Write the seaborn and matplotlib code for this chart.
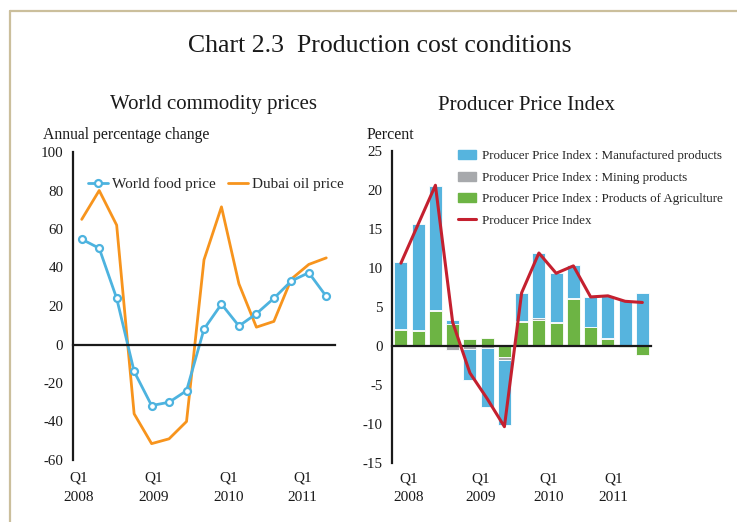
import matplotlib
matplotlib.use("Agg")
import matplotlib.pyplot as plt
import matplotlib.lines as mlines
import matplotlib.patches as mpatches
import numpy as np
import pandas as pd
import seaborn as sns

# ---------------- data ----------------
quarters = ["2008Q1", "2008Q2", "2008Q3", "2008Q4", "2009Q1", "2009Q2", "2009Q3", "2009Q4",
            "2010Q1", "2010Q2", "2010Q3", "2010Q4", "2011Q1", "2011Q2", "2011Q3"]
world_food = [54.7, 50, 24, -14, -31.7, -30, -24, 8, 21, 9.6, 16, 24, 33, 37.3, 25]
dubai_oil = [65, 80, 62, -36, -51.5, -49, -40, 44, 71.5, 31.5, 9, 12, 34, 41.6, 45]

ppi_manuf = [8.6, 13.6, 15.9, 0.5, -4.0, -7.6, -8.3, 3.6, 8.35, 6.3, 4.2, 3.85, 5.4, 5.75, 6.65]
ppi_mining = [0.1, 0.15, 0.1, -0.6, -0.47, -0.3, -0.45, 0.05, 0.25, 0.15, 0.1, 0.05, 0.1, 0.15, 0.15]
ppi_agri = [2.0, 1.85, 4.5, 2.8, 0.86, 0.95, -1.4, 3.1, 3.3, 2.85, 6.05, 2.35, 0.86, -0.2, -1.2]
ppi_total = [10.6, 15.6, 20.6, 3.0, -3.5, -6.8, -10.4, 6.8, 11.9, 9.3, 10.25, 6.26, 6.4, 5.7, 5.55]

year_labels = ["Q1\n2008", "Q1\n2009", "Q1\n2010", "Q1\n2011"]
left_yticks = [100, 80, 60, 40, 20, 0, -20, -40, -60]
right_yticks = [25, 20, 15, 10, 5, 0, -5, -10, -15]

# ---------------- style ----------------
sns.set_style("white")
plt.rcParams["font.family"] = ["Liberation Serif", "DejaVu Serif"]
plt.rcParams["axes.linewidth"] = 1.6

C_FOOD = "#4db3df"
C_OIL = "#f7941d"
C_MANUF = "#56b4de"
C_MINING = "#a7a9ac"
C_AGRI = "#6db444"
C_PPI = "#c4202f"
TXT = "#1a1a1a"

fig = plt.figure(figsize=(7.37, 5.22), dpi=100)
W, H = 737, 522

def px_axes(x0, x1, ytop, ybot):
    return fig.add_axes([x0 / W, 1 - ybot / H, (x1 - x0) / W, (ybot - ytop) / H])

# frame lines (top and left)
fig.add_artist(mlines.Line2D([9.5 / W, 1], [1 - 10.5 / H, 1 - 10.5 / H], color="#cbbf9c", lw=1.6))
fig.add_artist(mlines.Line2D([9.5 / W, 9.5 / W], [0, 1 - 10.5 / H], color="#cbbf9c", lw=1.6))

fig.text(380 / W, 1 - 46 / H, "Chart 2.3  Production cost conditions", ha="center", va="center",
         fontsize=18.5, color=TXT)
fig.text(214 / W, 1 - 105 / H, "World commodity prices", ha="center", va="center", fontsize=15, color=TXT)
fig.text(527 / W, 1 - 105 / H, "Producer Price Index", ha="center", va="center", fontsize=15, color=TXT)
fig.text(43 / W, 1 - 135 / H, "Annual percentage change", ha="left", va="center", fontsize=11.3, color=TXT)
fig.text(367 / W, 1 - 135 / H, "Percent", ha="left", va="center", fontsize=11.5, color=TXT)

x = np.arange(len(quarters))

def style_axes(ax, yticks):
    for s in ["top", "right"]:
        ax.spines[s].set_visible(False)
    ax.spines["bottom"].set_position(("data", 0))
    ax.spines["left"].set_color(TXT)
    ax.spines["bottom"].set_color(TXT)
    ax.set_xlim(-0.5, len(quarters) - 0.5)
    ax.set_xticks(np.arange(1.5, len(quarters), 2))
    ax.set_xticklabels([])
    ax.set_yticks(yticks)
    ax.set_yticklabels([str(v) for v in yticks])
    ax.tick_params(axis="y", direction="out", length=5, width=1.4, colors=TXT, labelsize=10.8, pad=2)
    ax.tick_params(axis="x", direction="out", length=5, width=1.4, colors=TXT)
    ax.set_xlabel("")
    ax.set_ylabel("")
    ax.grid(False)

# ---------------- left chart ----------------
ax1 = px_axes(73, 335, 152, 460)
df1 = pd.DataFrame({"x": x, "food": world_food, "oil": dubai_oil})
sns.lineplot(data=df1, x="x", y="oil", ax=ax1, color=C_OIL, lw=2, label="Dubai oil price", legend=False)
sns.lineplot(data=df1, x="x", y="food", ax=ax1, color=C_FOOD, lw=2, marker="o", markersize=5,
             markerfacecolor="white", markeredgecolor=C_FOOD, markeredgewidth=1.6,
             label="World food price", legend=False)
ax1.set_ylim(-60, 100)
style_axes(ax1, left_yticks)
h_food = mlines.Line2D([], [], color=C_FOOD, lw=2, marker="o", markersize=5,
                       markerfacecolor="white", markeredgecolor=C_FOOD, markeredgewidth=1.6)
h_oil = mlines.Line2D([], [], color=C_OIL, lw=2)
ax1.legend([h_food, h_oil], ["World food price", "Dubai oil price"], ncol=2, frameon=False,
           loc="center left", bbox_to_anchor=(0.035, 0.895), fontsize=11, handlelength=1.3,
           handletextpad=0.25, columnspacing=0.8, borderaxespad=0)

left_label_pos = [-0.17, 4.12, 8.41, 12.65]
for p, lab in zip(left_label_pos, year_labels):
    ax1.text(p, -66, lab, ha="center", va="top", fontsize=11, color=TXT, linespacing=1.6)

# ---------------- right chart ----------------
ax2 = px_axes(392.3, 651, 151, 462.5)
agri = np.array(ppi_agri)
mining = np.array(ppi_mining)
manuf = np.array(ppi_manuf)
pos_base = np.zeros(len(x))
neg_base = np.zeros(len(x))
bw = 0.76
for vals, col in [(agri, C_AGRI), (mining, C_MINING), (manuf, C_MANUF)]:
    bottoms = np.where(vals >= 0, pos_base, neg_base)
    ax2.bar(x, vals, bottom=bottoms, width=bw, color=col, edgecolor="white", linewidth=0.6, zorder=2)
    pos_base = pos_base + np.where(vals >= 0, vals, 0)
    neg_base = neg_base + np.where(vals < 0, vals, 0)
df2 = pd.DataFrame({"x": x, "ppi": ppi_total})
sns.lineplot(data=df2, x="x", y="ppi", ax=ax2, color=C_PPI, lw=2.2, legend=False, zorder=4)
ax2.set_ylim(-15, 25)
style_axes(ax2, right_yticks)
ax2.spines["bottom"].set_zorder(3)

handles = [mpatches.Patch(color=C_MANUF), mpatches.Patch(color=C_MINING), mpatches.Patch(color=C_AGRI),
           mlines.Line2D([], [], color=C_PPI, lw=2.2)]
labels = ["Producer Price Index : Manufactured products", "Producer Price Index : Mining products",
          "Producer Price Index : Products of Agriculture", "Producer Price Index"]
ax2.legend(handles, labels, loc="upper left", bbox_to_anchor=(0.232, 1.02), frameon=False,
           fontsize=9.4, handlelength=1.4, handleheight=0.7, handletextpad=0.45, labelspacing=0.72,
           borderaxespad=0)

right_label_pos = [0.45, 4.6, 8.56, 12.33]
for p, lab in zip(right_label_pos, year_labels):
    ax2.text(p, -16.25, lab, ha="center", va="top", fontsize=11, color=TXT, linespacing=1.55)

fig.savefig("out.png", dpi=100)
